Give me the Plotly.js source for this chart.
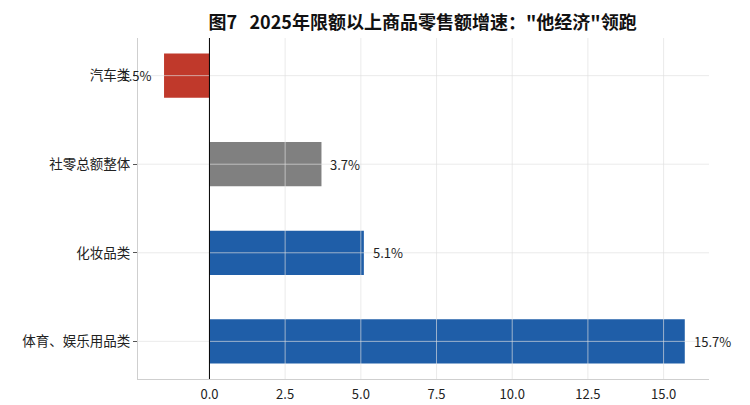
<!DOCTYPE html>
<html>
<head>
<meta charset="utf-8">
<script src="https://cdn.plot.ly/plotly-3.0.1.min.js"></script>
<style>
  html, body { margin: 0; padding: 0; background: #fff; }
  #plot { width: 750px; height: 405px; }
</style>
</head>
<body>
<div id="plot"></div>
<script>
// bottom to top, as the bars are stacked on the chart
const CATEGORIES = ['体育、娱乐用品类', '化妆品类', '社零总额整体', '汽车类'];
const GROWTH = [15.7, 5.1, 3.7, -1.5];
const BAR_COLORS = ['#1f5ea8', '#1f5ea8', '#808080', '#c0392b'];
const X_TICKS = [0, 2.5, 5, 7.5, 10, 12.5, 15];
const TITLE = '图7&nbsp;&nbsp;&nbsp;2025年限额以上商品零售额增速："他经济"领跑';

const FONT = '"Noto Sans CJK SC", "DejaVu Sans", sans-serif';
const GRID = 'rgba(225,225,225,0.65)';

function valueLabels() {
  return GROWTH.map((v, i) => ({
    x: v, y: CATEGORIES[i], xref: 'x', yref: 'y',
    text: v.toFixed(1) + '%',
    showarrow: false,
    xanchor: v < 0 ? 'right' : 'left',
    xshift: v < 0 ? -10 : 7,
    font: {family: FONT, size: 13, color: '#222'},
  }));
}

function gridShapes() {
  let shapes = [];
  // matplotlib draws its grid over the bars, so do the same with shapes
  for (const t of X_TICKS) {
    if (t === 0) continue;
    shapes.push({type: 'line', layer: 'above', xref: 'x', yref: 'paper',
      x0: t, x1: t, y0: 0, y1: 1, line: {color: GRID, width: 1}});
  }
  for (const c of CATEGORIES) {
    shapes.push({type: 'line', layer: 'above', xref: 'paper', yref: 'y',
      x0: 0, x1: 1, y0: c, y1: c, line: {color: GRID, width: 1}});
  }
  shapes.push({type: 'line', layer: 'above', xref: 'x', yref: 'paper',
    x0: 0, x1: 0, y0: 0, y1: 1, line: {color: '#000', width: 1}});
  return shapes;
}

const trace = {
  type: 'bar',
  orientation: 'h',
  x: GROWTH,
  y: CATEGORIES,
  width: 0.5,
  marker: {color: BAR_COLORS, line: {width: 0}},
  hoverinfo: 'x+y',
};

const layout = {
  width: 750, height: 405,
  margin: {l: 138, r: 41, t: 38, b: 26},
  paper_bgcolor: '#fff', plot_bgcolor: '#fff',
  font: {family: FONT, color: '#222'},
  title: {
    text: '<b>' + TITLE + '</b>',
    font: {family: FONT, size: 18, color: '#111'},
    x: 0.5635, xanchor: 'center', y: 0.945, yanchor: 'middle',
  },
  xaxis: {
    range: [-2.36, 16.5],
    tickvals: X_TICKS,
    ticktext: X_TICKS.map(t => t.toFixed(1)),
    showgrid: false, zeroline: false,
    showline: true, linecolor: '#cfcfcf', linewidth: 1,
    ticks: 'outside', ticklen: 3, tickcolor: 'rgba(0,0,0,0)',
    tickfont: {family: FONT, size: 13, color: '#222'},
  },
  yaxis: {
    type: 'category',
    categoryorder: 'array', categoryarray: CATEGORIES,
    range: [-0.425, 3.425],
    showgrid: false, zeroline: false,
    showline: true, linecolor: '#cfcfcf', linewidth: 1,
    ticks: 'outside', ticklen: 4, tickcolor: '#555', tickwidth: 1,
    tickfont: {family: FONT, size: 13.5, color: '#222'},
  },
  shapes: gridShapes(),
  annotations: valueLabels(),
  showlegend: false,
  bargap: 0.5,
};

Plotly.newPlot('plot', [trace], layout, {displayModeBar: false, staticPlot: true});
</script>
</body>
</html>
